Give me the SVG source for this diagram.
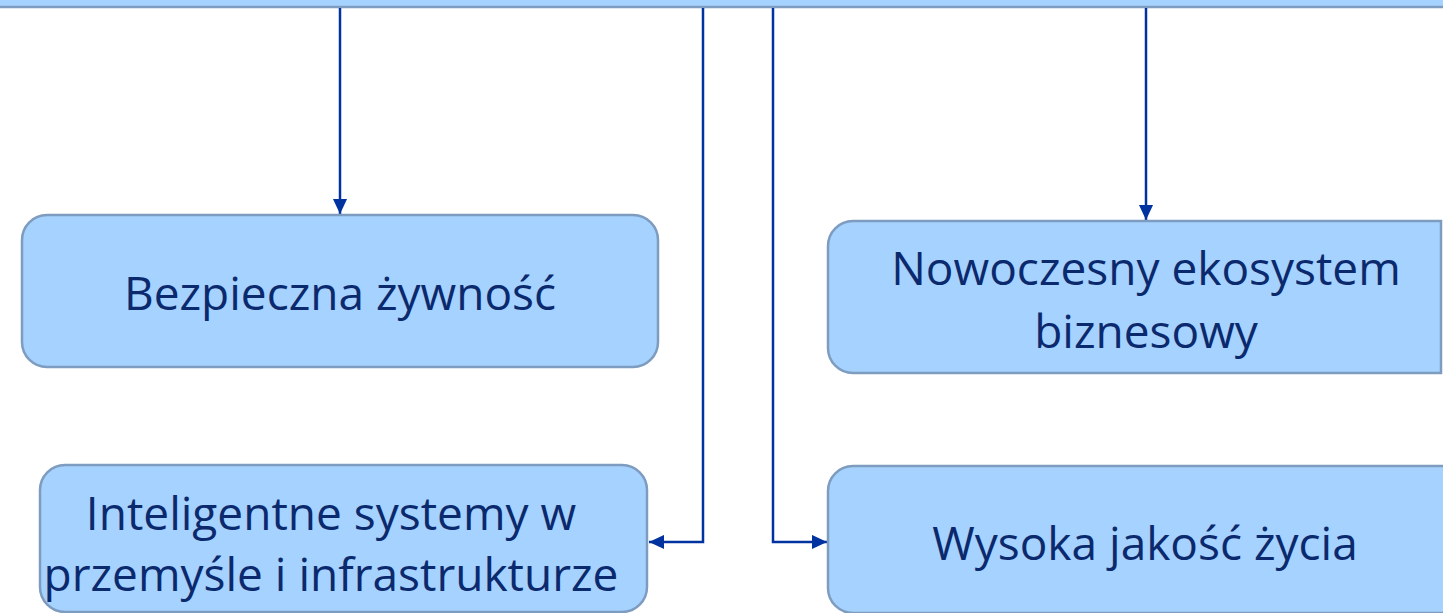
<svg xmlns="http://www.w3.org/2000/svg" width="1443" height="613" viewBox="0 0 1443 613">
<defs>
<style>
.box{fill:#A6D2FF;stroke:#7D9CC0;stroke-width:2.5}
.t{font-family:"Open Sans","Liberation Sans",sans-serif;font-size:46px;fill:#0B2A6E;text-anchor:middle}
.c{fill:none;stroke:#0033A0;stroke-width:2.5}
</style>
<marker id="a" viewBox="0 0 10 10" refX="10" refY="5" markerWidth="15" markerHeight="15" orient="auto" markerUnits="userSpaceOnUse">
<path d="M0,0.3 L10,5 L0,9.7 z" fill="#0033A0"/>
</marker>
</defs>
<g id="top">
<rect class="box" x="-10" y="-60" width="1463" height="67"/>
</g>
<g id="connectors">
<path class="c" d="M340,8 V214" marker-end="url(#a)"/>
<path class="c" d="M703,8 V542 H649" marker-end="url(#a)"/>
<path class="c" d="M773,8 V542 H827" marker-end="url(#a)"/>
<path class="c" d="M1146,8 V220" marker-end="url(#a)"/>
</g>
<g id="n1">
<rect class="box" x="22" y="215" width="636" height="152" rx="25"/>
<text class="t" x="340" y="310">Bezpieczna żywność</text>
</g>
<g id="n2">
<path class="box" d="M1441,221 V373 H853 A25,25 0 0 1 828,348 V246 A25,25 0 0 1 853,221 Z"/>
<text class="t" x="1146" y="285">Nowoczesny ekosystem</text>
<text class="t" x="1146" y="348">biznesowy</text>
</g>
<g id="n3">
<rect class="box" x="40" y="465" width="607" height="147" rx="25"/>
<text class="t" x="331" y="530">Inteligentne systemy w</text>
<text class="t" x="331" y="591">przemyśle i infrastrukturze</text>
</g>
<g id="n4">
<path class="box" d="M1453,466 H853 A25,25 0 0 0 828,491 V588 A25,25 0 0 0 853,613 H1453 Z"/>
<text class="t" x="1145" y="560">Wysoka jakość życia</text>
</g>
</svg>
